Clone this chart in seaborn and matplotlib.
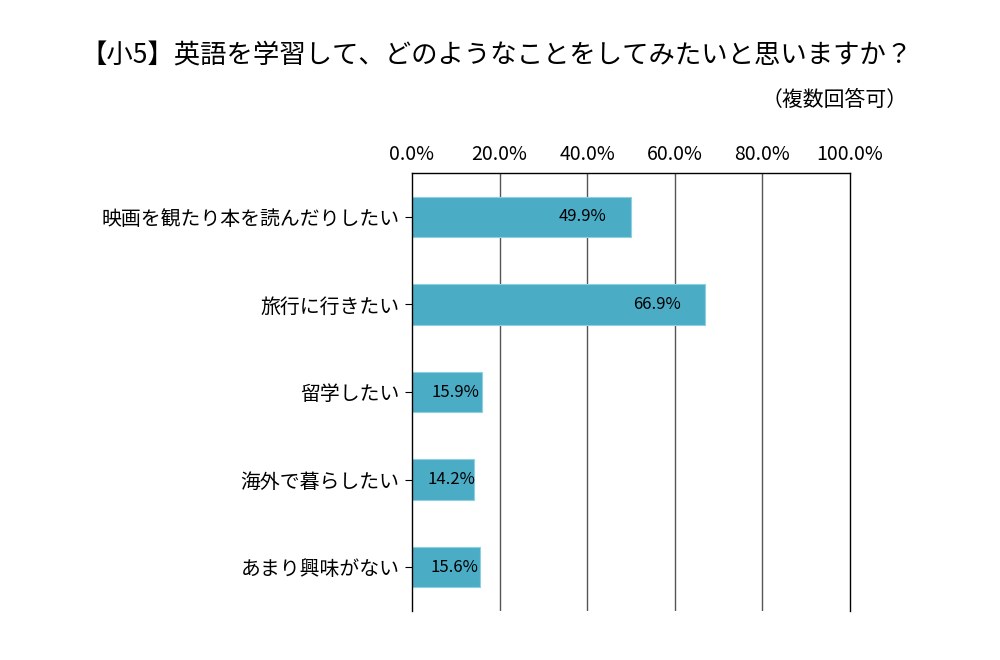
import pandas as pd
import numpy as np
import matplotlib
matplotlib.use("Agg")
import matplotlib.pyplot as plt
import seaborn as sns

categories = ["映画を観たり本を読んだりしたい", "旅行に行きたい", "留学したい", "海外で暮らしたい", "あまり興味がない"]
values = [49.9, 66.9, 15.9, 14.2, 15.6]
x_ticks = [0, 20, 40, 60, 80, 100]
x_tick_labels = ["0.0%", "20.0%", "40.0%", "60.0%", "80.0%", "100.0%"]
title = "【小5】英語を学習して、どのようなことをしてみたいと思いますか？"
subtitle = "（複数回答可）"

sns.set_theme(style="white")
plt.rcParams['font.family'] = ['Noto Sans CJK JP', 'DejaVu Sans']
plt.rcParams['text.color'] = 'black'
plt.rcParams['xtick.color'] = 'black'
plt.rcParams['ytick.color'] = 'black'

df = pd.DataFrame({"item": categories, "pct": values})

fig = plt.figure(figsize=(10, 6.6), dpi=100)
ax = fig.add_axes([0.412, 0.0742, 0.438, 0.6637])

sns.barplot(data=df, x="pct", y="item", ax=ax, color="#4BACC6", width=0.46,
            edgecolor="#8fd0e0", linewidth=0.8, saturation=1)

ax.set_xlim(0, 100)
ax.set_ylim(4.5, -0.5)
ax.set_xticks(x_ticks)
ax.set_xticklabels(x_tick_labels, fontsize=14)
ax.xaxis.tick_top()
ax.tick_params(axis="x", length=0, pad=6)
ax.tick_params(axis="y", left=True, length=5, width=0.8, color="black", labelsize=14.3, pad=4)
ax.set_xlabel("")
ax.set_ylabel("")

for x in x_ticks[1:-1]:
    ax.axvline(x, color="#555555", linewidth=1.0, zorder=0)

for side in ["top", "left", "right"]:
    ax.spines[side].set_visible(True)
    ax.spines[side].set_color("black")
    ax.spines[side].set_linewidth(1.0)
ax.spines["bottom"].set_visible(False)

# value labels inside the bars
for i, v in enumerate(values):
    xpos = v - 11 if v > 30 else v / 2 + 2
    ax.text(xpos, i, f"{v:.1f}%", ha="center", va="center", fontsize=12, color="black")

fig.text(0.497, 0.915, title, ha="center", va="center", fontsize=19)
fig.text(0.908, 0.848, subtitle, ha="right", va="center", fontsize=15)

fig.savefig("out.png", dpi=100, facecolor="white")
plt.close(fig)
